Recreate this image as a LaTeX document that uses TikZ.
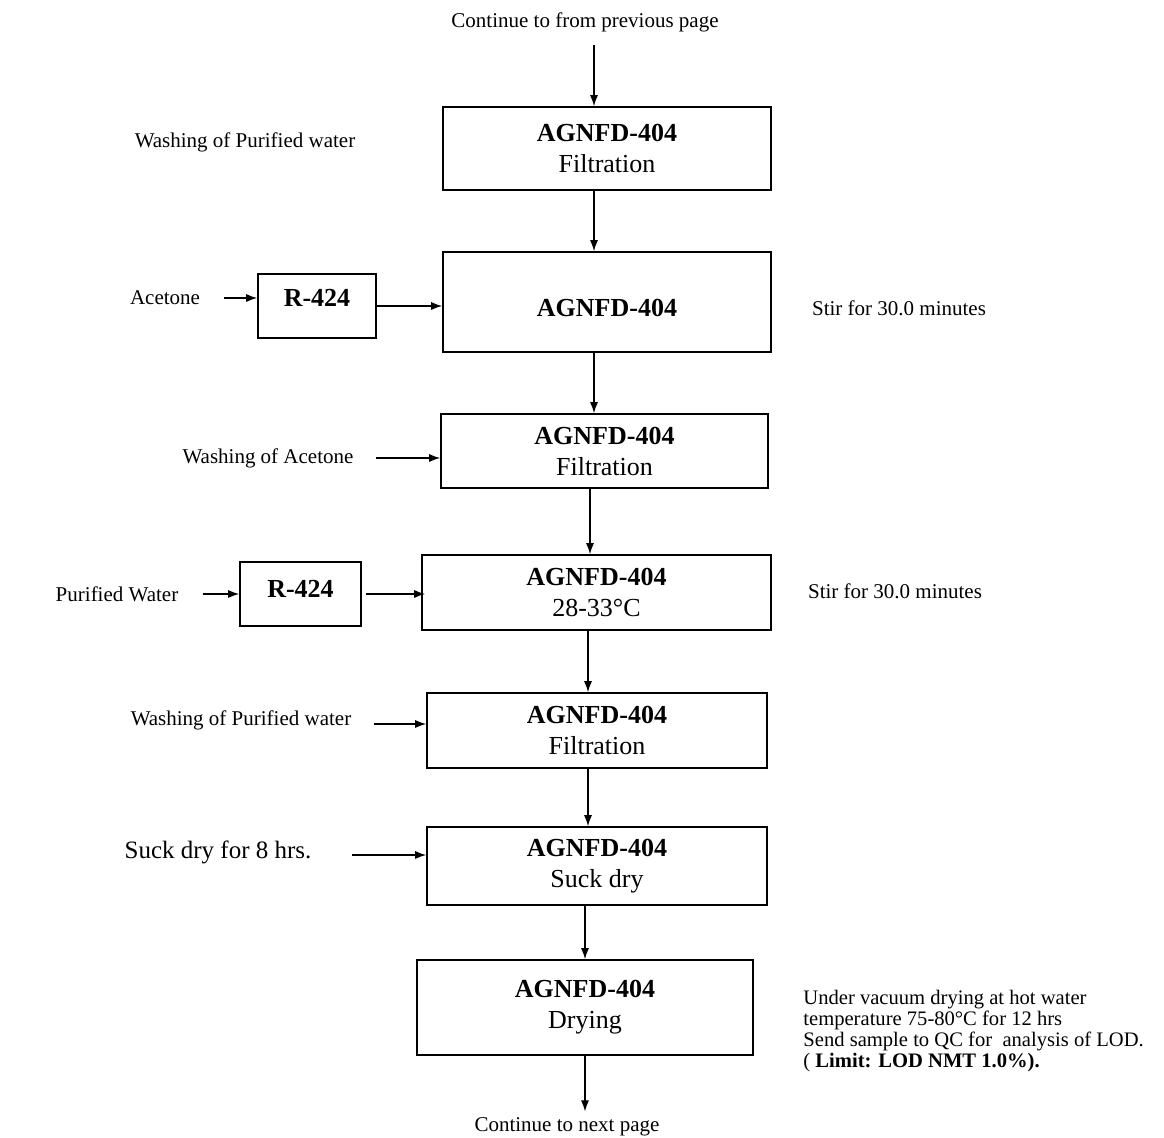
\documentclass[tikz,border=0pt]{standalone}
\usepackage{fontspec}
\setmainfont{Liberation Serif}
\usepackage{tikz}
\usetikzlibrary{positioning}
\usetikzlibrary{arrows.meta}

\begin{document}
\begin{tikzpicture}[
        x=0.5pt, y=-0.5pt,
        every node/.style={inner sep=3pt},
        unit/.style={draw, line width=0.8pt, inner sep=0pt, align=center,
            font=\fontsize{13}{15.5}\selectfont},
        feed/.style={font=\fontsize{10.5}{12.5}\selectfont},
        flow/.style={-{Latex[length=5.5pt,width=4pt]}, line width=0.6pt}]

        \useasboundingbox (0,0) rectangle (1164,1138);

        \node[feed] (prev) at (585,22) {Continue to from previous page};

        \node[unit, minimum width=164pt, minimum height=41.5pt] (F1) at (607,148.5) {\textbf{AGNFD-404}\\Filtration};
        \node[unit, minimum width=164pt, minimum height=50pt, text height=15pt, text depth=0.2pt] (S1) at (607,302) {\textbf{AGNFD-404}};
        \node[unit, minimum width=163.5pt, minimum height=37pt] (F2) at (604.5,451) {\textbf{AGNFD-404}\\Filtration};
        \node[unit, minimum width=174.5pt, minimum height=37.5pt] (S2) at (596.5,592.5) {\textbf{AGNFD-404}\\28-33°C};
        \node[unit, minimum width=170pt, minimum height=37.5pt] (F3) at (597,730.5) {\textbf{AGNFD-404}\\Filtration};
        \node[unit, minimum width=170pt, minimum height=39pt] (SD) at (597,866) {\textbf{AGNFD-404}\\Suck dry};
        \node[unit, minimum width=168pt, minimum height=47.5pt] (DR) at (585,1007.5) {\textbf{AGNFD-404}\\Drying};

        \node[unit, minimum width=59pt, minimum height=32pt, text height=9pt, text depth=8pt] (R1) at (317,306) {\textbf{R-424}};
        \node[unit, minimum width=60.5pt, minimum height=32pt, text height=9pt, text depth=5pt] (R2) at (300.5,594) {\textbf{R-424}};

        \node[feed] (wpw1) at (245,142) {Washing of Purified water};
        \node[feed] (acet) at (165,298) {Acetone};
        \node[feed] (stir1) at (899,308) {Stir for 30.0 minutes};
        \node[feed] (wacet) at (268,458) {Washing of Acetone};
        \node[feed] (pw) at (117,594) {Purified Water};
        \node[feed] (stir2) at (895,591) {Stir for 30.0 minutes};
        \node[feed] (wpw2) at (241,720) {Washing of Purified water};
        \node[font=\fontsize{12.5}{15}\selectfont] (suck) at (218,852) {Suck dry for 8 hrs.};
        \node[feed, anchor=north west, inner sep=0pt, align=left,
            font=\fontsize{10.3}{10.5}\selectfont] (note) at (803,990)
            {Under vacuum drying at hot water\\temperature 75-80°C for 12 hrs\\Send sample to QC for\ \ analysis of LOD.\\( \textbf{Limit: LOD NMT 1.0\%).}};
        \node[feed] (next) at (567,1127) {Continue to next page};

        % main line
        \draw[flow] ([xshift=4.5pt,yshift=-3.5pt]prev.south) -- ([xshift=-6.5pt]F1.north);
        \draw[flow] ([xshift=-6.5pt]F1.south) -- ([xshift=-6.5pt]S1.north);
        \draw[flow] ([xshift=-6.5pt]S1.south) -- ([xshift=-5.25pt]F2.north);
        \draw[flow] ([xshift=-7.25pt]F2.south) -- ([xshift=-3.25pt]S2.north);
        \draw[flow] ([xshift=-4.25pt]S2.south) -- ([xshift=-4.5pt]F3.north);
        \draw[flow] ([xshift=-4.5pt]F3.south) -- ([xshift=-4.5pt]SD.north);
        \draw[flow] ([xshift=-6pt]SD.south) -- (DR.north);
        \draw[flow] (DR.south) -- (DR.south |- next.north);

        % side feeds
        \draw[flow] ([xshift=9pt]acet.east) -- (acet.east -| R1.west);
        \draw[flow] (R1.east) -- (R1.east -| S1.west);
        \draw[flow] ([xshift=8pt]wacet.east) -- (wacet.east -| F2.west);
        \draw[flow] ([xshift=9pt]pw.east) -- (pw.east -| R2.west);
        \draw[flow] ([xshift=2pt]R2.east) -- ([xshift=2pt]R2.east -| S2.west);
        \draw[flow] ([xshift=8pt,yshift=-2pt]wpw2.east) -- ([yshift=-2pt]wpw2.east -| F3.west);
        \draw[flow] ([xshift=17pt,yshift=-1.5pt]suck.east) -- ([yshift=-1.5pt]suck.east -| SD.west);

    \end{tikzpicture}
\end{document}
